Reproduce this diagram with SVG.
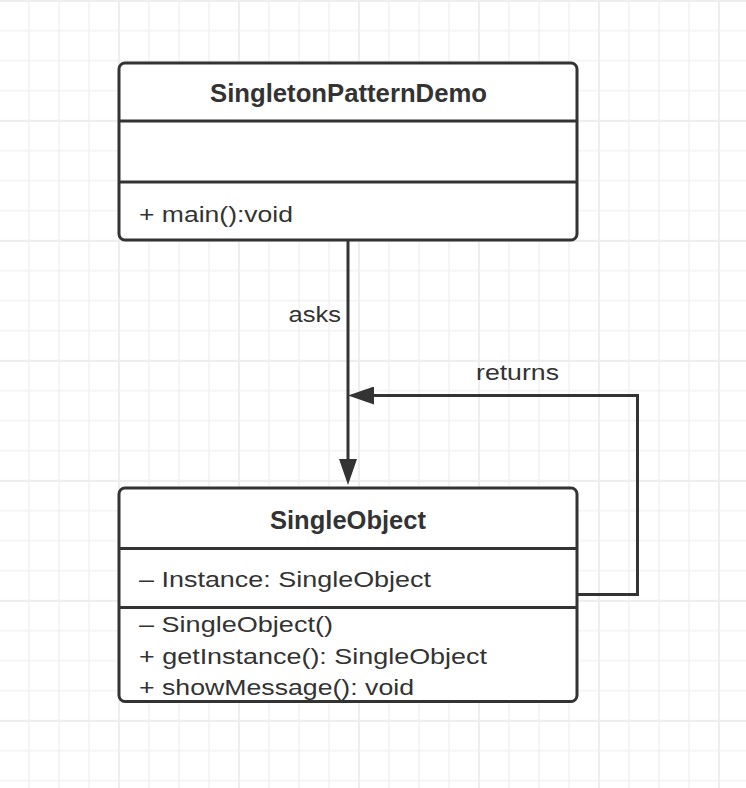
<svg xmlns="http://www.w3.org/2000/svg" width="746" height="788" viewBox="0 0 746 788">
  <style>
    .box { fill: #ffffff; stroke: #333333; stroke-width: 3; }
    .div { stroke: #333333; stroke-width: 3; fill: none; }
    .title { font-family: "Liberation Sans", Arial, Helvetica, sans-serif; font-size: 25px; font-weight: bold; fill: #333333; }
    .body { font-family: "Liberation Sans", Arial, Helvetica, sans-serif; font-size: 22px; fill: #333333; }
    .conn { stroke: #333333; stroke-width: 3; fill: none; }
  </style>
  <defs>
    <pattern id="gridMinor" x="14" y="-14.3" width="30" height="30" patternUnits="userSpaceOnUse">
      <path d="M15,0 V30 M0,15 H30" stroke="#f2f2f2" stroke-width="1.5" fill="none"/>
    </pattern>
    <pattern id="gridMajor" x="59" y="-59" width="120" height="120" patternUnits="userSpaceOnUse">
      <path d="M60,0 V120 M0,60 H120" stroke="#eeeeee" stroke-width="1.8" fill="none"/>
    </pattern>
    <marker id="arrow" markerUnits="userSpaceOnUse" markerWidth="27" markerHeight="18" refX="1" refY="9" orient="auto">
      <path d="M0,0 L26,9 L0,18 Z" fill="#333333"/>
    </marker>
  </defs>

  <rect x="0" y="0" width="746" height="788" fill="#ffffff"/>
  <rect x="0" y="0" width="746" height="788" fill="url(#gridMinor)"/>
  <rect x="0" y="0" width="746" height="788" fill="url(#gridMajor)"/>

  <g id="connectors">
    <path class="conn" d="M348,240 V460" marker-end="url(#arrow)"/>
    <path class="conn" d="M577,594.5 H637.5 V395.5 H373" marker-end="url(#arrow)"/>
    <text class="body" x="288.5" y="321.5" textLength="52.5" lengthAdjust="spacingAndGlyphs">asks</text>
    <text class="body" x="476" y="380" textLength="83" lengthAdjust="spacingAndGlyphs">returns</text>
  </g>

  <g id="SingletonPatternDemo">
    <rect class="box" x="119" y="63" width="458" height="177" rx="6" ry="6"/>
    <path class="div" d="M119,121 H577 M119,182 H577"/>
    <text class="title" x="210" y="102" textLength="277" lengthAdjust="spacingAndGlyphs">SingletonPatternDemo</text>
    <text class="body" x="139" y="222" textLength="154" lengthAdjust="spacingAndGlyphs">+ main():void</text>
  </g>

  <g id="SingleObject">
    <rect class="box" x="119" y="488" width="458" height="213.5" rx="6" ry="6"/>
    <path class="div" d="M119,548.5 H577 M119,607.5 H577"/>
    <text class="title" x="270" y="528.5" textLength="156" lengthAdjust="spacingAndGlyphs">SingleObject</text>
    <text class="body" x="139" y="587" textLength="292" lengthAdjust="spacingAndGlyphs">– Instance: SingleObject</text>
    <text class="body" x="139" y="632" textLength="194" lengthAdjust="spacingAndGlyphs">– SingleObject()</text>
    <text class="body" x="139" y="663.5" textLength="348" lengthAdjust="spacingAndGlyphs">+ getInstance(): SingleObject</text>
    <text class="body" x="139" y="695" textLength="275" lengthAdjust="spacingAndGlyphs">+ showMessage(): void</text>
  </g>
</svg>
